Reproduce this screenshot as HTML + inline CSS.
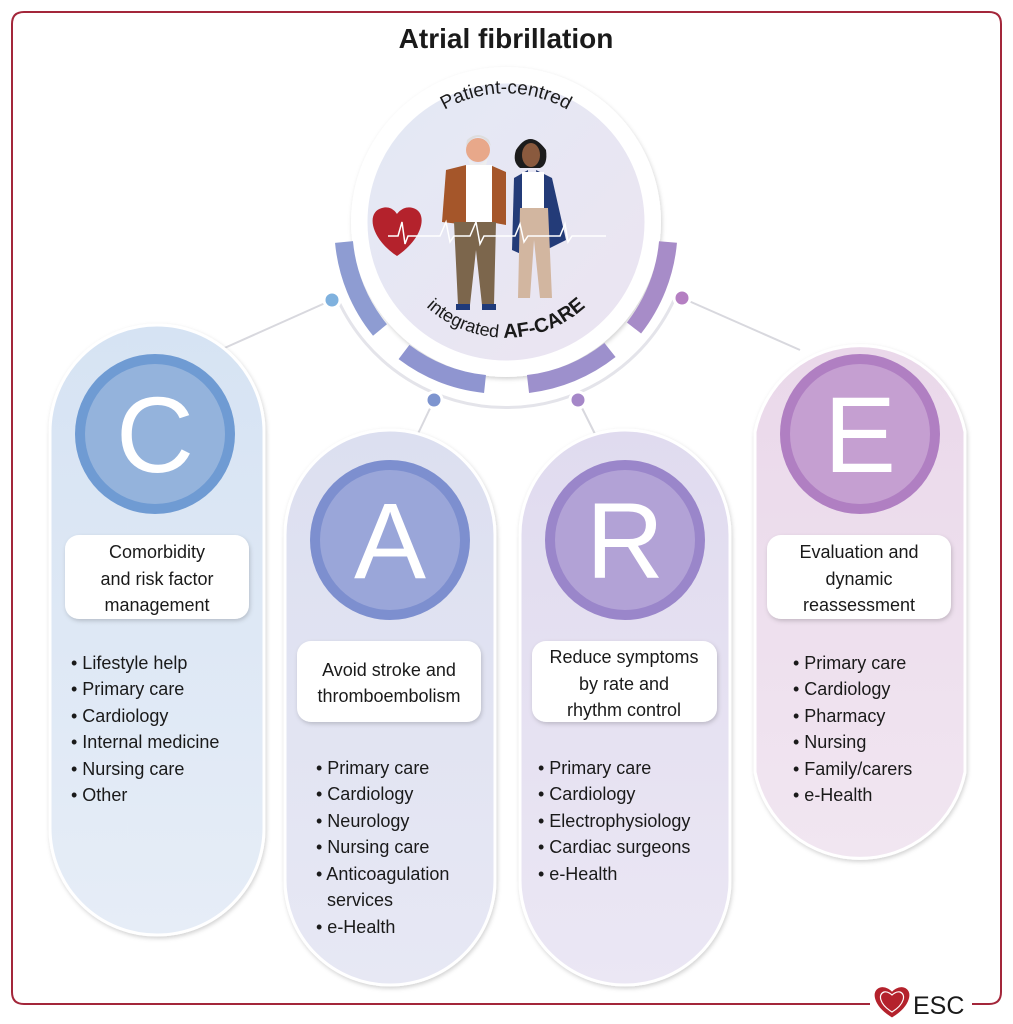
<!DOCTYPE html>
<html><head><meta charset="utf-8"><style>
html,body{margin:0;padding:0;background:#fff}
svg{display:block}
text{font-family:"Liberation Sans",sans-serif;fill:#1a1a1a}
.l{font-size:18px}
.b{font-size:18px;text-anchor:middle}
.big{font-size:108px;fill:#fff;text-anchor:middle}
</style></head><body>
<svg width="1013" height="1024" viewBox="0 0 1013 1024" xmlns="http://www.w3.org/2000/svg">
<defs>
<linearGradient id="gc" x1="0" y1="0" x2="0" y2="1"><stop offset="0" stop-color="#d6e3f3"/><stop offset="1" stop-color="#e6edf7"/></linearGradient>
<linearGradient id="ga" x1="0" y1="0" x2="0" y2="1"><stop offset="0" stop-color="#dcdff0"/><stop offset="1" stop-color="#e7e8f4"/></linearGradient>
<linearGradient id="gr" x1="0" y1="0" x2="0" y2="1"><stop offset="0" stop-color="#e0dbef"/><stop offset="1" stop-color="#ebe7f4"/></linearGradient>
<linearGradient id="ge" x1="0" y1="0" x2="0" y2="1"><stop offset="0" stop-color="#ead8ea"/><stop offset="1" stop-color="#f1e6f1"/></linearGradient>
<linearGradient id="gm" x1="0" y1="0" x2="1" y2="1"><stop offset="0" stop-color="#e3e9f5"/><stop offset="1" stop-color="#ece4f1"/></linearGradient>
<filter id="sh" x="-10%" y="-10%" width="120%" height="120%"><feDropShadow dx="1" dy="2" stdDeviation="2" flood-color="#000" flood-opacity="0.18"/></filter>
</defs>
<path d="M870 1004 H24 Q12 1004 12 992 V24 Q12 12 24 12 H989 Q1001 12 1001 24 V992 Q1001 1004 989 1004 H972" fill="none" stroke="#a3263a" stroke-width="2"/>
<text x="506" y="48" font-size="28" font-weight="bold" text-anchor="middle">Atrial fibrillation</text>

<g stroke="#d8d8de" stroke-width="2" fill="none">
<line x1="332" y1="300" x2="220" y2="350"/>
<line x1="682" y1="298" x2="800" y2="350"/>
<line x1="434" y1="400" x2="415" y2="440"/>
<line x1="578" y1="400" x2="598" y2="440"/>
<path d="M338 300 A185 185 0 0 0 674 300" stroke="#e4e4ea" stroke-width="3"/>
</g>

<g filter="url(#sh)">
<path d="M50 432 A107 107 0 0 1 264 432 V828 A107 107 0 0 1 50 828 Z" fill="url(#gc)" stroke="#fff" stroke-width="3"/>
<path d="M285 535 A105 105 0 0 1 495 535 V880 A105 105 0 0 1 285 880 Z" fill="url(#ga)" stroke="#fff" stroke-width="3"/>
<path d="M520 535 A105 105 0 0 1 730 535 V880 A105 105 0 0 1 520 880 Z" fill="url(#gr)" stroke="#fff" stroke-width="3"/>
<path d="M755 432 A107 107 0 0 1 965 432 V772 A107 107 0 0 1 755 772 Z" fill="url(#ge)" stroke="#fff" stroke-width="3"/>
</g>

<circle cx="155" cy="434" r="80" fill="#6f9bd3"/><circle cx="155" cy="434" r="70" fill="#94b3dc"/>
<text x="155" y="472" class="big">C</text>
<circle cx="390" cy="540" r="80" fill="#7d8fcf"/><circle cx="390" cy="540" r="70" fill="#9aa6d9"/>
<text x="390" y="578" class="big">A</text>
<circle cx="625" cy="540" r="80" fill="#9a86ca"/><circle cx="625" cy="540" r="70" fill="#b2a2d6"/>
<text x="625" y="578" class="big">R</text>
<circle cx="860" cy="434" r="80" fill="#b07fc2"/><circle cx="860" cy="434" r="70" fill="#c59fd1"/>
<text x="860" y="472" class="big">E</text>

<g fill="#fff" filter="url(#sh)">
<rect x="65" y="535" width="184" height="84" rx="14"/>
<rect x="297" y="641" width="184" height="81" rx="14"/>
<rect x="532" y="641" width="185" height="81" rx="14"/>
<rect x="767" y="535" width="184" height="84" rx="14"/>
</g>
<text class="b" x="157" y="558">Comorbidity</text>
<text class="b" x="157" y="585">and risk factor</text>
<text class="b" x="157" y="611">management</text>
<text class="b" x="389" y="676">Avoid stroke and</text>
<text class="b" x="389" y="702">thromboembolism</text>
<text class="b" x="624" y="663">Reduce symptoms</text>
<text class="b" x="624" y="690">by rate and</text>
<text class="b" x="624" y="716">rhythm control</text>
<text class="b" x="859" y="558">Evaluation and</text>
<text class="b" x="859" y="585">dynamic</text>
<text class="b" x="859" y="611">reassessment</text>

<g>
<text class="l" x="71" y="669">• Lifestyle help</text>
<text class="l" x="71" y="695">• Primary care</text>
<text class="l" x="71" y="722">• Cardiology</text>
<text class="l" x="71" y="748">• Internal medicine</text>
<text class="l" x="71" y="775">• Nursing care</text>
<text class="l" x="71" y="801">• Other</text>

<text class="l" x="316" y="774">• Primary care</text>
<text class="l" x="316" y="800">• Cardiology</text>
<text class="l" x="316" y="827">• Neurology</text>
<text class="l" x="316" y="853">• Nursing care</text>
<text class="l" x="316" y="880">• Anticoagulation</text>
<text class="l" x="327" y="906">services</text>
<text class="l" x="316" y="933">• e-Health</text>

<text class="l" x="538" y="774">• Primary care</text>
<text class="l" x="538" y="800">• Cardiology</text>
<text class="l" x="538" y="827">• Electrophysiology</text>
<text class="l" x="538" y="853">• Cardiac surgeons</text>
<text class="l" x="538" y="880">• e-Health</text>

<text class="l" x="793" y="669">• Primary care</text>
<text class="l" x="793" y="695">• Cardiology</text>
<text class="l" x="793" y="722">• Pharmacy</text>
<text class="l" x="793" y="748">• Nursing</text>
<text class="l" x="793" y="775">• Family/carers</text>
<text class="l" x="793" y="801">• e-Health</text>
</g>

<circle cx="506" cy="222" r="155" fill="#fff" filter="url(#sh)"/>
<circle cx="506" cy="222" r="140" fill="url(#gm)" stroke="#fff" stroke-width="3"/>
<g fill="none" stroke-width="18">
<path d="M344 242 A163 163 0 0 0 380 330" stroke="#8e9cd2"/>
<path d="M404 352 A163 163 0 0 0 485 384" stroke="#8f95d0"/>
<path d="M528 384 A163 163 0 0 0 610 350" stroke="#9d90cc"/>
<path d="M634 328 A163 163 0 0 0 668 242" stroke="#a78cc8"/>
</g>
<circle cx="332" cy="300" r="8" fill="#7fb1de" stroke="#fff" stroke-width="3"/>
<circle cx="434" cy="400" r="8" fill="#7d94cf" stroke="#fff" stroke-width="3"/>
<circle cx="578" cy="400" r="8" fill="#a587c8" stroke="#fff" stroke-width="3"/>
<circle cx="682" cy="298" r="8" fill="#b47fc2" stroke="#fff" stroke-width="3"/>

<path id="tp" d="M410 140 A122 122 0 0 1 602 140" fill="none"/>
<text font-size="19"><textPath href="#tp" startOffset="50%" text-anchor="middle">Patient-centred</textPath></text>
<path id="bp" d="M416 296 A118 118 0 0 0 596 296" fill="none"/>
<text font-size="18"><textPath href="#bp" startOffset="50%" text-anchor="middle">integrated <tspan font-weight="bold" font-size="20">AF-CARE</tspan></textPath></text>

<g>
<circle cx="478" cy="150" r="12" fill="#e8a88a"/>
<path d="M466 146 Q478 128 491 146 L489 140 Q478 130 467 140Z" fill="#ddd"/>
<path d="M468 158 Q478 170 488 158 L486 165 Q478 172 470 165Z" fill="#eee"/>
<path d="M446 170 L466 165 L468 225 L442 222 Z" fill="#a5562a"/>
<path d="M490 165 L506 172 L506 225 L490 222Z" fill="#a5562a"/>
<rect x="466" y="165" width="26" height="58" fill="#fff"/>
<path d="M454 222 H496 L494 305 H482 L476 250 L470 305 H458Z" fill="#7c664c"/>
<rect x="456" y="304" width="14" height="6" fill="#1f3a7a"/><rect x="482" y="304" width="14" height="6" fill="#1f3a7a"/>
<path d="M516 150 Q530 128 546 150 Q548 165 540 168 L520 168 Q512 162 516 150Z" fill="#1c1c1c"/>
<ellipse cx="531" cy="155" rx="9" ry="12" fill="#8a5a3e"/>
<path d="M514 178 L528 170 L530 258 L512 250 Z" fill="#233b78"/>
<path d="M536 170 L552 178 L566 240 L546 250 Z" fill="#233b78"/>
<rect x="522" y="172" width="22" height="36" fill="#fff"/>
<path d="M520 208 H548 L552 298 H540 L534 240 L530 298 H518Z" fill="#d2b6a0"/>
</g>
<path d="M397 256 C370 238 366 212 382 208 C392 205 397 214 397 214 C397 214 403 205 413 208 C428 212 424 238 397 256Z" fill="#b4222c"/>
<polyline points="388,236 398,236 402,222 405,244 408,236 440,236 446,222 450,242 454,236 470,236 476,222 480,244 484,236 515,236 520,224 524,242 528,236 560,236 565,224 568,242 572,236 606,236" fill="none" stroke="#fff" stroke-width="1.5"/>

<path d="M892 1018 C872 1006 870 990 880 987 C886 985 892 991 892 991 C892 991 898 985 904 987 C914 990 912 1006 892 1018Z" fill="#b4222c" stroke="#fff" stroke-width="1"/>
<path d="M892 1012 C879 1004 878 994 884 992 C888 991 892 995 892 995 C892 995 896 991 900 992 C906 994 905 1004 892 1012Z" fill="none" stroke="#fff" stroke-width="1.2"/>
<text x="913" y="1014" font-size="25" fill="#1a1a1a">ESC</text>
</svg>
</body></html>
